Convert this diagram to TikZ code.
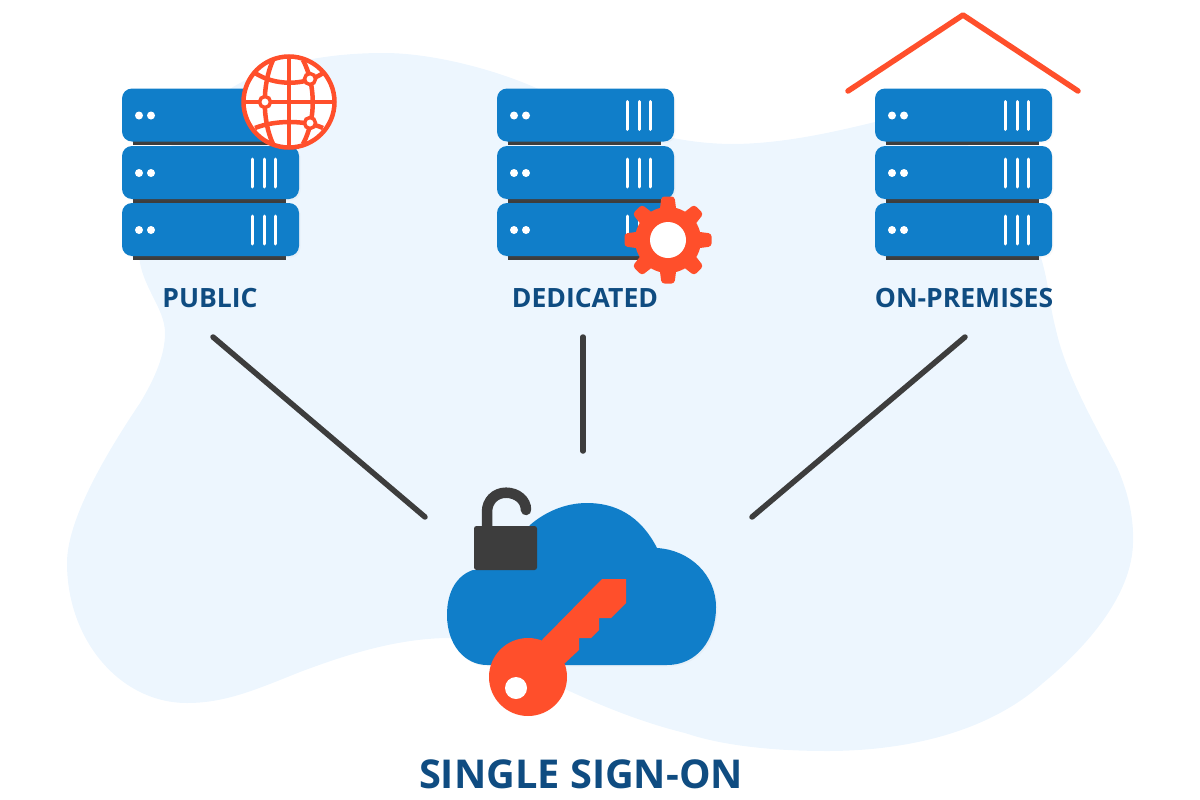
\documentclass[tikz,border=0pt]{standalone}
\usepackage{fontspec}
\setmainfont{Open Sans}
\usetikzlibrary{shadows}
\definecolor{backblue}{HTML}{EDF6FE}
\definecolor{serverblue}{HTML}{107EC9}
\definecolor{accentred}{HTML}{FF4F2B}
\definecolor{darkgrey}{HTML}{3D3D3D}
\definecolor{labelblue}{HTML}{0F4C81}
\tikzset{
  connector/.style={draw=darkgrey,line width=0.055cm,line cap=round},
  redline/.style={draw=accentred,line width=0.045cm},
  whitebar/.style={draw=white,line width=0.03cm,line cap=round},
  serverlabel/.style={text=labelblue,font=\fontsize{7.55}{9}\selectfont\bfseries,inner sep=0pt},
  softshadow/.style={drop shadow={opacity=0.05,shadow xshift=0.015cm,shadow yshift=-0.015cm}},
  serverunit/.pic={
    \fill [darkgrey] (11,50) rectangle (164,56.5);
    \fill [serverblue,rounded corners=0.1cm,softshadow] (0,0) rectangle (177,53);
    \fill [white] (17,27) circle (4) (29,27) circle (4);
    \foreach \barx in {130.5,142,153.5}
      \draw [whitebar] (\barx,13) -- (\barx,41);
  }
}
\begin{document}
\begin{tikzpicture}[x=0.01cm,y=-0.01cm]
  \useasboundingbox (0,0) rectangle (1200,800);

  % Background blob
  \fill [backblue] (384,53)
    .. controls (430,53) and (490,68) .. (534,87)
    .. controls (590,112) and (650,143) .. (731,144)
    .. controls (780,144) and (830,133) .. (875,122)
    .. controls (960,108) and (1010,180) .. (1035,240)
    .. controls (1050,280) and (1047,295) .. (1056,330)
    .. controls (1066,375) and (1095,425) .. (1117,467)
    .. controls (1127,490) and (1134,515) .. (1133,543)
    .. controls (1132,590) and (1095,640) .. (1043,683)
    .. controls (985,735) and (900,751) .. (827,751)
    .. controls (770,751) and (720,745) .. (685,733)
    .. controls (640,722) and (600,705) .. (567,690)
    .. controls (525,668) and (490,638) .. (450,638)
    .. controls (395,638) and (340,657) .. (300,672)
    .. controls (255,690) and (225,703) .. (187,703)
    .. controls (120,703) and (67,640) .. (67,563)
    .. controls (67,520) and (105,455) .. (140,403)
    .. controls (155,378) and (165,355) .. (165,333)
    .. controls (165,310) and (145,290) .. (140,263)
    .. controls (130,190) and (175,125) .. (233,87)
    .. controls (275,62) and (330,53) .. (384,53) -- cycle;

  % Server stacks
  \foreach \stackx in {122,497,875}
    \foreach \stacky in {203,146,88.5}
      \pic at (\stackx,\stacky) {serverunit};

  % Globe on the first stack
  \draw [redline,fill=white] (289,102) circle (45.5);
  \draw [redline] (289,56) -- (289,148);
  \draw [redline] (244,102) -- (334,102);
  \draw [redline] (273,60) .. controls (262,85) and (262,120) .. (273,144);
  \draw [redline] (303,60) .. controls (316,85) and (316,120) .. (303,144);
  \draw [redline] (255,73) .. controls (275,86) and (305,86) .. (323,73);
  \draw [redline] (255,128) .. controls (275,120) and (305,120) .. (323,128);
  \draw [redline,line width=0.035cm,fill=white] (310,79) circle (5.5);
  \draw [redline,line width=0.035cm,fill=white] (265,102) circle (5.5);
  \draw [redline,line width=0.035cm,fill=white] (310,123) circle (5.5);

  % Gear on the second stack
  \fill [accentred] (668,240) circle (33);
  \foreach \gearangle in {0,45,...,315}
    \fill [accentred,shift={(668,240)},rotate=\gearangle,rounded corners=0.03cm]
      (-8.5,-28) -- (-6.5,-43.5) -- (6.5,-43.5) -- (8.5,-28) -- cycle;
  \fill [white] (668,240) circle (18);

  % Roof over the third stack
  \draw [redline,line width=0.055cm,line cap=round,line join=round] (848,91) -- (963,15) -- (1078,91);

  % Labels
  \node [serverlabel] (public) at (210,298) {PUBLIC};
  \node [serverlabel] (dedicated) at (585,298) {DEDICATED};
  \node [serverlabel] (onpremises) at (964,298) {ON-PREMISES};
  \node [text=labelblue,font=\fontsize{11.3}{14}\selectfont\bfseries,inner sep=0pt] (singlesignon) at (581,774) {SINGLE SIGN-ON};

  % Connectors
  \coordinate (publicend) at (213,337);
  \coordinate (publiccloud) at (425,517);
  \coordinate (dedicatedend) at (583,337);
  \coordinate (dedicatedcloud) at (583,451);
  \coordinate (onpremisesend) at (965,337);
  \coordinate (onpremisescloud) at (752,517);
  \draw [connector] (publicend) -- (publiccloud);
  \draw [connector] (dedicatedend) -- (dedicatedcloud);
  \draw [connector] (onpremisesend) -- (onpremisescloud);

  % Cloud
  \fill [serverblue,softshadow] (487,665) -- (667,665)
    .. controls (697,665) and (716,640) .. (716,607)
    .. controls (716,575) and (690,550) .. (657,548)
    .. controls (640,515) and (615,503) .. (587,503)
    .. controls (565,503) and (545,512) .. (530,525)
    -- (500,570) -- (473,570)
    .. controls (458,575) and (447,590) .. (447,615)
    .. controls (447,645) and (465,665) .. (487,665) -- cycle;

  % Open padlock
  \draw [darkgrey,line width=0.105cm,line cap=round] (487,530) -- (487,512)
    .. controls (487,501) and (495,492.7) .. (506,492.7)
    .. controls (517,492.7) and (526,500) .. (526,510);
  \fill [darkgrey,rounded corners=0.025cm] (474,526) rectangle (537,570);

  % Key
  \fill [accentred] (542,640) -- (602,579) -- (626,579) -- (626,603) -- (611,618)
    -- (599,618) -- (599,630) -- (591,638) -- (579,638) -- (579,650) -- (565,663)
    -- (528,677) -- cycle;
  \fill [accentred] (528,677) circle (39);
  \fill [white] (516,688) circle (11);
\end{tikzpicture}
\end{document}
